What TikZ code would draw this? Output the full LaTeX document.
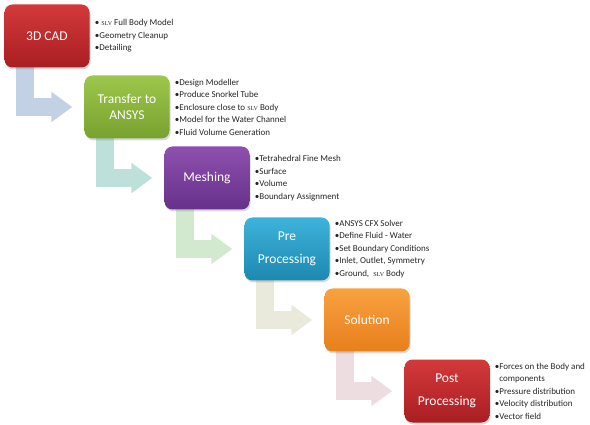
\documentclass[tikz,border=0pt]{standalone}
\usepackage{fontspec}
\setmainfont{Carlito}
\newfontfamily\slvfont{Liberation Serif}
\usepackage{tikz}
\usetikzlibrary{arrows.meta,calc,shadows,backgrounds}

\newcommand{\slvname}{{\slvfont\fontsize{6}{6}\selectfont SLV}}

\definecolor{redtop}{HTML}{D3393B}
\definecolor{redbot}{HTML}{A91E22}
\definecolor{greentop}{HTML}{9DC64B}
\definecolor{greenbot}{HTML}{77A22E}
\definecolor{purpletop}{HTML}{8E50AE}
\definecolor{purplebot}{HTML}{66318A}
\definecolor{bluetop}{HTML}{3DB3DB}
\definecolor{bluebot}{HTML}{1D88B0}
\definecolor{orangetop}{HTML}{F9A140}
\definecolor{orangebot}{HTML}{E77F1C}
\definecolor{flowA}{HTML}{C3D1E5}
\definecolor{flowB}{HTML}{BEE0DA}
\definecolor{flowC}{HTML}{D3E9CF}
\definecolor{flowD}{HTML}{E9E9DC}
\definecolor{flowE}{HTML}{EDDDE0}

\begin{document}
\begin{tikzpicture}[line join=miter,x=1pt,y=-1pt,
  stage/.style={rounded corners=8pt,minimum width=85pt,minimum height=63pt,align=center,
    text=white,font=\fontsize{13.5}{16}\selectfont,
    drop shadow={shadow xshift=1pt,shadow yshift=-2pt,opacity=0.3}},
  notes/.style={anchor=west,align=left,inner sep=0pt,text=black!85,font=\fontsize{9}{12.5}\selectfont},
  flow/.style={draw=#1,line width=18pt,-{Triangle[length=21pt,width=29pt]}}]
\useasboundingbox (0,0) rectangle (590,425);

% stages
\node[stage,top color=redtop,bottom color=redbot] (cad) at (47,36) {3D CAD};
\node[stage,top color=greentop,bottom color=greenbot] (ansys) at (127,107) {Transfer to\\ANSYS};
\node[stage,top color=purpletop,bottom color=purplebot] (mesh) at (207,178) {Meshing};
\node[stage,top color=bluetop,bottom color=bluebot] (pre) at (287,249) {Pre\\[7pt]Processing};
\node[stage,top color=orangetop,bottom color=orangebot] (solve) at (367,320) {Solution};
\node[stage,top color=redtop,bottom color=redbot] (post) at (447,391) {Post\\[7pt]Processing};

% task lists
\node[notes] (cadnotes) at ($(cad.east)+(5,0)$) {\textbullet\ \slvname\ Full Body Model\\\textbullet Geometry Cleanup\\\textbullet Detailing};
\node[notes] (ansysnotes) at ($(ansys.east)+(5,0)$) {\textbullet Design Modeller\\\textbullet Produce Snorkel Tube\\\textbullet Enclosure close to \slvname\ Body\\\textbullet Model for the Water Channel\\\textbullet Fluid Volume Generation};
\node[notes] (meshnotes) at ($(mesh.east)+(5,0)$) {\textbullet Tetrahedral Fine Mesh\\\textbullet Surface\\\textbullet Volume\\\textbullet Boundary Assignment};
\node[notes] (prenotes) at ($(pre.east)+(5,0)$) {\textbullet ANSYS CFX Solver\\\textbullet Define Fluid - Water\\\textbullet Set Boundary Conditions\\\textbullet Inlet, Outlet, Symmetry\\\textbullet Ground,\ \ \slvname\ Body};
\node[notes] (postnotes) at ($(post.east)+(5,0)$) {\textbullet Forces on the Body and\\\phantom{\textbullet}components\\\textbullet Pressure distribution\\\textbullet Velocity distribution\\\textbullet Vector field};

% bent arrows
\begin{scope}[on background layer]
\draw[flow=flowA] ($(cad.south west)+(21,-8)$) |- ($(ansys.west)+(-12,0)$);
\draw[flow=flowB] ($(ansys.south west)+(21,-8)$) |- ($(mesh.west)+(-12,0)$);
\draw[flow=flowC] ($(mesh.south west)+(21,-8)$) |- ($(pre.west)+(-12,0)$);
\draw[flow=flowD] ($(pre.south west)+(21,-8)$) |- ($(solve.west)+(-12,0)$);
\draw[flow=flowE] ($(solve.south west)+(21,-8)$) |- ($(post.west)+(-12,0)$);
\end{scope}

\end{tikzpicture}
\end{document}
